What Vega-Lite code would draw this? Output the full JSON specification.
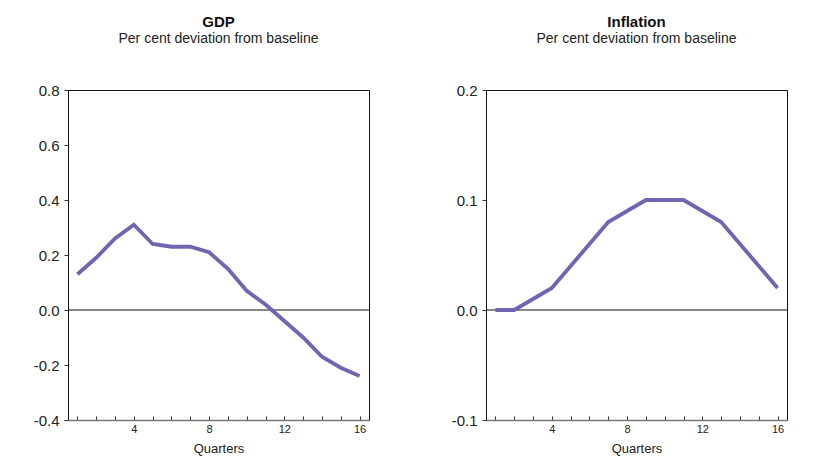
{
  "$schema": "https://vega.github.io/schema/vega-lite/v6.json",
  "background": "white",
  "padding": {"left": 32, "top": 14, "right": 0, "bottom": 0},
  "config": {
    "font": "Liberation Sans",
    "view": {"stroke": "#111", "strokeWidth": 1},
    "concat": {"spacing": 80},
    "axis": {"grid": false, "labelColor": "#222", "titleColor": "#222", "tickColor": "#333"}
  },
  "datasets": {
    "gdp": [
      {"q": 1, "v": 0.13}, {"q": 2, "v": 0.19}, {"q": 3, "v": 0.26}, {"q": 4, "v": 0.31},
      {"q": 5, "v": 0.24}, {"q": 6, "v": 0.23}, {"q": 7, "v": 0.23}, {"q": 8, "v": 0.21},
      {"q": 9, "v": 0.15}, {"q": 10, "v": 0.07}, {"q": 11, "v": 0.02}, {"q": 12, "v": -0.04},
      {"q": 13, "v": -0.10}, {"q": 14, "v": -0.17}, {"q": 15, "v": -0.21}, {"q": 16, "v": -0.24}
    ],
    "inf": [
      {"q": 1, "v": 0.0}, {"q": 2, "v": 0.0}, {"q": 3, "v": 0.01}, {"q": 4, "v": 0.02},
      {"q": 5, "v": 0.04}, {"q": 6, "v": 0.06}, {"q": 7, "v": 0.08}, {"q": 8, "v": 0.09},
      {"q": 9, "v": 0.10}, {"q": 10, "v": 0.10}, {"q": 11, "v": 0.10}, {"q": 12, "v": 0.09},
      {"q": 13, "v": 0.08}, {"q": 14, "v": 0.06}, {"q": 15, "v": 0.04}, {"q": 16, "v": 0.02}
    ],
    "zero": [{"z": 0}]
  },
  "hconcat": [
    {
      "title": {"text": "GDP", "subtitle": "Per cent deviation from baseline", "fontSize": 15, "fontWeight": "bold", "subtitleFontSize": 14, "subtitlePadding": 2, "offset": 37, "anchor": "middle", "frame": "group", "color": "#111", "subtitleColor": "#222"},
      "width": 301,
      "height": 330,
      "layer": [
        {
          "data": {"name": "zero"},
          "mark": {"type": "rule", "color": "#111", "strokeWidth": 1},
          "encoding": {"y": {"field": "z", "type": "quantitative"}}
        },
        {
          "data": {"name": "gdp"},
          "mark": {"type": "line", "color": "#7165b2", "strokeWidth": 3.8},
          "encoding": {
            "x": {"field": "q", "type": "quantitative", "scale": {"domain": [0.5, 16.5], "nice": false, "zero": false},
              "axis": {"values": [1,2,3,4,5,6,7,8,9,10,11,12,13,14,15,16], "labelExpr": "datum.value % 4 == 0 ? datum.label : ''", "tickSize": -4, "labelPadding": 7, "labelFontSize": 11, "title": "Quarters", "titleFontSize": 13, "titleFontWeight": "normal", "titlePadding": 8, "domainColor": "#777", "domainWidth": 1.5}},
            "y": {"field": "v", "type": "quantitative", "scale": {"domain": [-0.4, 0.8], "nice": false, "zero": false},
              "axis": {"values": [-0.4, -0.2, 0, 0.2, 0.4, 0.6, 0.8], "labelExpr": "(datum.value < 0 ? '-' : '') + format(abs(datum.value), '.1f')", "tickSize": 4, "labelPadding": 5, "labelFontSize": 15, "title": null, "domain": false}}
          }
        }
      ]
    },
    {
      "title": {"text": "Inflation", "subtitle": "Per cent deviation from baseline", "fontSize": 15, "fontWeight": "bold", "subtitleFontSize": 14, "subtitlePadding": 2, "offset": 37, "anchor": "middle", "frame": "group", "color": "#111", "subtitleColor": "#222"},
      "width": 301,
      "height": 330,
      "layer": [
        {
          "data": {"name": "zero"},
          "mark": {"type": "rule", "color": "#111", "strokeWidth": 1},
          "encoding": {"y": {"field": "z", "type": "quantitative"}}
        },
        {
          "data": {"name": "inf"},
          "mark": {"type": "line", "color": "#7165b2", "strokeWidth": 3.8},
          "encoding": {
            "x": {"field": "q", "type": "quantitative", "scale": {"domain": [0.5, 16.5], "nice": false, "zero": false},
              "axis": {"values": [1,2,3,4,5,6,7,8,9,10,11,12,13,14,15,16], "labelExpr": "datum.value % 4 == 0 ? datum.label : ''", "tickSize": -4, "labelPadding": 7, "labelFontSize": 11, "title": "Quarters", "titleFontSize": 13, "titleFontWeight": "normal", "titlePadding": 8, "domainColor": "#777", "domainWidth": 1.5}},
            "y": {"field": "v", "type": "quantitative", "scale": {"domain": [-0.1, 0.2], "nice": false, "zero": false},
              "axis": {"values": [-0.1, 0, 0.1, 0.2], "labelExpr": "(datum.value < 0 ? '-' : '') + format(abs(datum.value), '.1f')", "tickSize": 4, "labelPadding": 5, "labelFontSize": 15, "title": null, "domain": false}}
          }
        }
      ]
    }
  ]
}
